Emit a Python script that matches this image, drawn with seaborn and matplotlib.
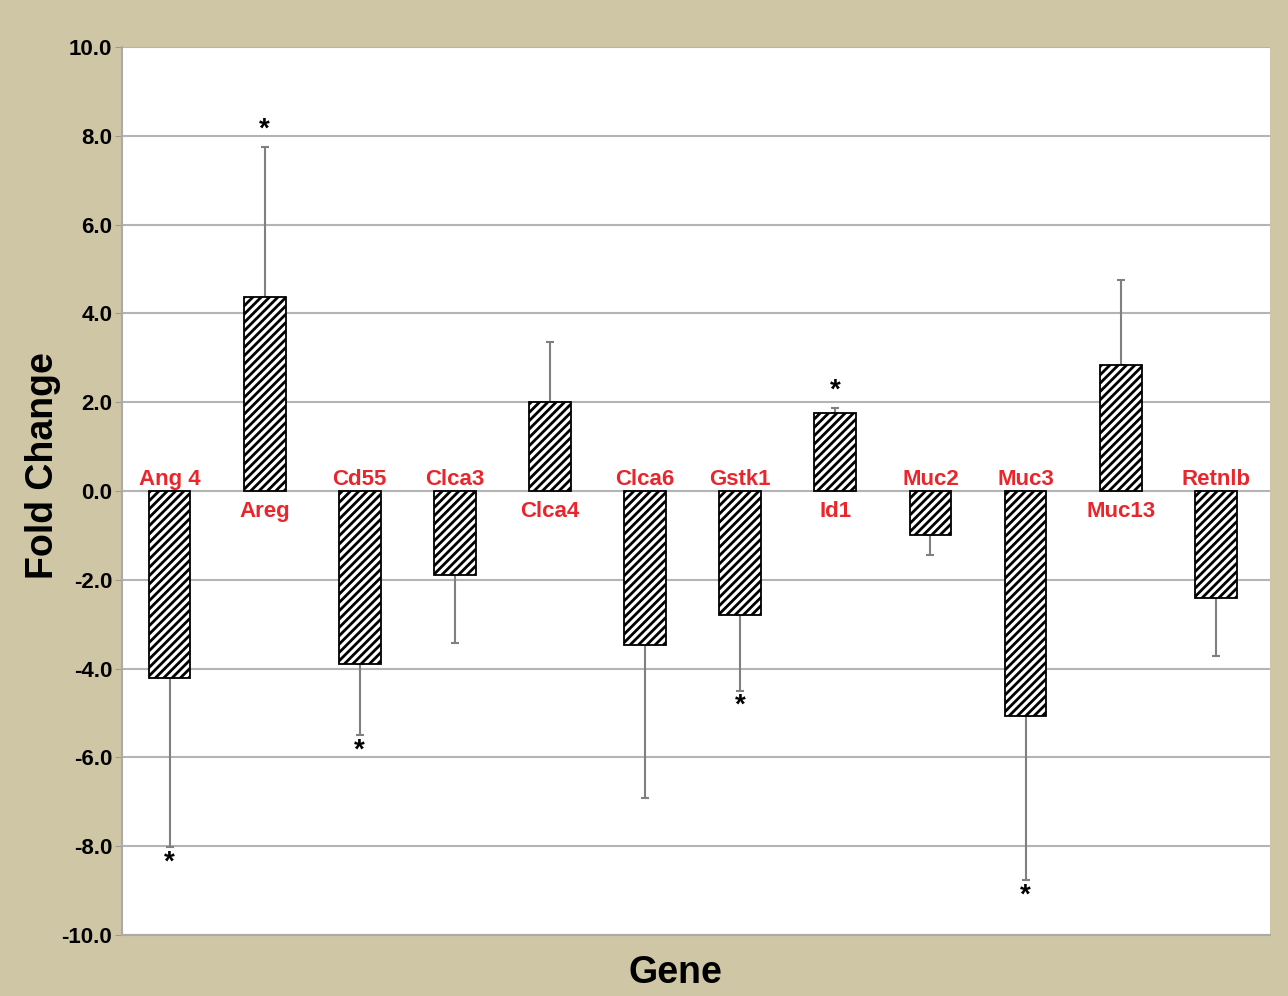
import matplotlib
matplotlib.use("Agg")
import matplotlib.pyplot as plt
import seaborn as sns
import numpy as np
import pandas as pd

genes = ["Ang 4", "Areg", "Cd55", "Clca3", "Clca4", "Clca6", "Gstk1",
         "Id1", "Muc2", "Muc3", "Muc13", "Retnlb"]
fold_change = [-4.21, 4.37, -3.90, -1.89, 2.00, -3.47, -2.79,
               1.76, -0.99, -5.07, 2.84, -2.41]
error_end = [-8.02, 7.75, -5.50, -3.42, 3.36, -6.91, -4.50,
             1.87, -1.44, -8.76, 4.75, -3.72]
significant = [True, True, True, False, False, False, True,
               True, False, True, False, False]

tan = "#cec6a5"
red = "#e8262c"

df = pd.DataFrame({"Gene": genes, "Fold Change": fold_change})

sns.set_style("white")
plt.rcParams["font.family"] = ["Liberation Sans", "DejaVu Sans"]
plt.rcParams["hatch.linewidth"] = 2.0
plt.rcParams["text.color"] = "black"
plt.rcParams["axes.labelcolor"] = "black"
plt.rcParams["ytick.color"] = "black"

fig = plt.figure(figsize=(12.88, 9.96), dpi=100, facecolor=tan)
ax = fig.add_axes([122 / 1288, 61 / 996, 1148 / 1288, 888 / 996])
ax.set_facecolor("white")

sns.barplot(data=df, x="Gene", y="Fold Change", color="white",
            edgecolor="black", linewidth=1.3, hatch="////", width=0.44,
            ax=ax, zorder=3)

# one-sided error bars, pointing away from zero
vals = np.array(fold_change)
ends = np.array(error_end)
x = np.arange(len(genes))
lower = np.where(vals < 0, vals - ends, 0)
upper = np.where(vals > 0, ends - vals, 0)
ax.errorbar(x, vals, yerr=[lower, upper], fmt="none", ecolor="#808080",
            elinewidth=1.5, capsize=3, capthick=1.5, zorder=2)

for i, (v, e, s) in enumerate(zip(vals, ends, significant)):
    if s:
        if v > 0:
            ax.text(i, e + 0.1, "*", ha="center", va="bottom",
                    fontsize=20, fontweight="bold", color="black")
        else:
            ax.text(i, e - 0.05, "*", ha="center", va="top",
                    fontsize=20, fontweight="bold", color="black")
    if v > 0:
        ax.text(i, -0.22, genes[i], ha="center", va="top", fontsize=16,
                fontweight="bold", color=red, zorder=4)
    else:
        ax.text(i, 0.02, genes[i], ha="center", va="bottom", fontsize=16,
                fontweight="bold", color=red, zorder=4)

ax.set_ylim(-10, 10)
ax.set_xlim(-0.5, len(genes) - 0.43)
ax.set_yticks(np.arange(-10, 10.1, 2))
ax.set_yticklabels([f"{t:.1f}" for t in np.arange(-10, 10.1, 2)],
                   fontsize=16, fontweight="bold")
ax.set_xticks([])
ax.yaxis.grid(True, color="#b4b4b4", linewidth=1.5, zorder=0)
ax.set_axisbelow(True)
ax.tick_params(axis="y", length=5, color="#999999", pad=2, left=True)

for side in ["top", "right"]:
    ax.spines[side].set_visible(False)
for side in ["left", "bottom"]:
    ax.spines[side].set_color("#aaaaaa")
    ax.spines[side].set_linewidth(1.5)

ax.set_xlabel("Gene", fontsize=27, fontweight="bold")
ax.set_ylabel("Fold Change", fontsize=27, fontweight="bold")
ax.xaxis.set_label_coords((675 - 122) / 1148, -(955 - 935) / 888)
ax.xaxis.label.set_va("top")
ax.yaxis.set_label_coords(-(122 - 43) / 1148, (935 - 466) / 888)
ax.yaxis.label.set_va("center")
ax.yaxis.label.set_ha("center")

fig.savefig("out.png", dpi=100, facecolor=tan)
